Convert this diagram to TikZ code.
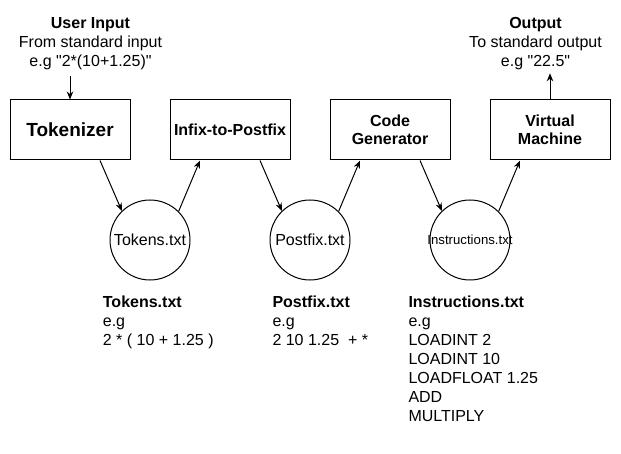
\documentclass[tikz,border=0pt]{standalone}
\usepackage{fontspec}
\setmainfont{Liberation Sans}[Ligatures=TeXOff]
\usetikzlibrary{arrows.meta}
\begin{document}
\begin{tikzpicture}[x=1pt,y=-1pt,
  box/.style={draw,line width=1pt,minimum width=120pt,minimum height=60pt,inner sep=0pt,font=\bfseries\fontsize{16}{18.5}\selectfont,align=center},
  file/.style={draw,circle,line width=1pt,minimum size=80pt,inner sep=0pt,font=\fontsize{16}{19}\selectfont},
  conn/.style={line width=1pt,-{Stealth[length=8pt,width=6.5pt]}},
  note/.style={inner sep=0pt,align=left,anchor=north west,font=\fontsize{16}{19}\selectfont},
  head/.style={inner sep=0pt,align=center,anchor=north,font=\fontsize{16}{19}\selectfont}]
\useasboundingbox (0,0) rectangle (621,454);
% process boxes
\node[box,font=\bfseries\fontsize{19}{22}\selectfont] (tok) at (70,130) {Tokenizer};
\node[box] (inf) at (230,130) {Infix-to-Postfix};
\node[box] (cg) at (390,130) {Code\\Generator};
\node[box] (vm) at (550,130) {Virtual\\Machine};
% files
\node[file] (c1) at (150,240) {Tokens.txt};
\node[file] (c2) at (310,240) {Postfix.txt};
\node[file,label={[font=\fontsize{13.2}{15}\selectfont,inner sep=0pt]center:Instructions.txt}] (c3) at (470,240) {};
% input / output
\node[head] (uin) at (90.5,16.8) {\textbf{User Input}\\From standard input\\e.g "2*(10+1.25)"};
\coordinate (uinend) at (70,75.7);
\draw[conn] (uinend) -- (tok.north);
\node[head] (out) at (535.5,16.8) {\textbf{Output}\\To standard output\\e.g "22.5"};
\coordinate (outend) at (550,73.3);
\draw[conn] (vm.north) -- (outend);
% connectors
\draw[conn] ([xshift=30pt]tok.south) -- (c1.134);
\draw[conn] (c1.45) -- ([xshift=-30pt]inf.south);
\draw[conn] ([xshift=30pt]inf.south) -- (c2.134);
\draw[conn] (c2.45) -- ([xshift=-30pt]cg.south);
\draw[conn] ([xshift=30pt]cg.south) -- (c3.134);
\draw[conn] (c3.45) -- ([xshift=-30pt]vm.south);
% notes
\node[note] (n1) at (102.7,296) {\textbf{Tokens.txt}\\e.g\\2 * ( 10 + 1.25 )};
\node[note] (n2) at (272.3,296) {\textbf{Postfix.txt}\\e.g\\2 10 1.25\ \ + *};
\node[note] (n3) at (408.3,296) {\textbf{Instructions.txt}\\e.g\\LOADINT 2\\LOADINT 10\\LOADFLOAT 1.25\\ADD\\MULTIPLY};
\end{tikzpicture}
\end{document}
